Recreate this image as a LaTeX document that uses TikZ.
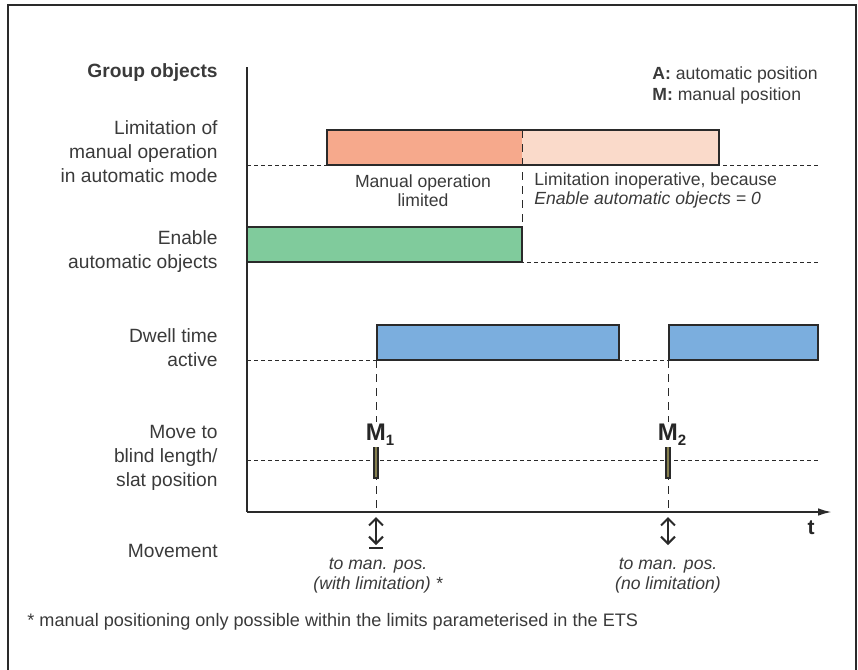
\documentclass[tikz,border=0pt]{standalone}
\usepackage{fontspec}
\setmainfont{Liberation Sans}
\usetikzlibrary{arrows.meta}
\definecolor{txt}{HTML}{3A3A3A}
\definecolor{salmon}{HTML}{F6A98C}
\definecolor{salmonlight}{HTML}{FADACA}
\definecolor{greenbox}{HTML}{80CB9C}
\definecolor{bluebox}{HTML}{7BAEDE}
\definecolor{olive}{HTML}{86804F}
\definecolor{linec}{HTML}{2A2A2A}
\begin{document}
\begin{tikzpicture}[x=0.5pt,y=-0.5pt,
  rowlbl/.style={align=right, anchor=east, font=\fontsize{9.6}{12}\selectfont, text=txt, inner sep=0pt},
  note/.style={font=\fontsize{8.8}{9.5}\selectfont, text=txt, inner sep=0pt},
  foot/.style={font=\fontsize{9.05}{10}\selectfont, text=txt, inner sep=0pt},
  legend/.style={font=\fontsize{8.8}{10.5}\selectfont, text=txt, inner sep=0pt, align=left, anchor=west},
  mov/.style={font=\fontsize{8.8}{10}\selectfont\itshape, text=txt, inner sep=0pt, align=center},
  boxline/.style={draw=linec, line width=1pt},
  baseln/.style={draw=linec, line width=0.5pt, dash pattern=on 2pt off 1.5pt},
  marker/.style={draw=linec, line width=0.5pt, dash pattern=on 4pt off 3pt},
  axis/.style={draw=linec, line width=1pt},
  movarrow/.style={draw=linec, line width=1pt, {Straight Barb[length=3.5pt,width=7pt,line width=1pt]}-{Straight Barb[length=3.5pt,width=7pt,line width=1pt]}},
  mlabel/.style={font=\fontsize{12}{14}\selectfont\bfseries, text=black!85, inner sep=0.5pt, fill=white, anchor=base}
]
\useasboundingbox (0,0) rectangle (858,670);
% frame
\draw[draw=linec, line width=1pt] (8,700) -- (8,5) -- (856,5) -- (856,700);

% coordinates
\coordinate (yaxtop) at (247,67);
\coordinate (origin) at (247,512);
\coordinate (xaxend) at (832,512);

% baselines
\draw[baseln] (247,165) -- (818,165);
\draw[baseln] (247,262) -- (818,262);
\draw[baseln] (247,360) -- (818,360);
\draw[baseln] (247,460) -- (818,460);

% row 1 boxes
\fill[salmon] (327,130) rectangle (522,165);
\fill[salmonlight] (522,130) rectangle (719,165);
\draw[boxline] (327,130) rectangle (719,165);
\draw[marker] (522,130) -- (522,227);

% row 2
\draw[boxline, fill=greenbox] (247,227) rectangle (522,262);

% row 3
\draw[boxline, fill=bluebox] (377,325) rectangle (619,360);
\draw[boxline, fill=bluebox] (669,325) rectangle (818,360);

% markers
\draw[marker] (376,360) -- (376,512);
\draw[marker] (668,360) -- (668,512);

% bars
\draw[draw=linec, line width=0.6pt, fill=olive] (374,442) rectangle (378,478);
\draw[draw=linec, line width=0.6pt, fill=olive] (666,442) rectangle (670,478);
\node[mlabel] (m1) at (380,440) {M\raisebox{-0.45ex}{\fontsize{7.5}{8}\selectfont 1}};
\node[mlabel] (m2) at (672,440) {M\raisebox{-0.45ex}{\fontsize{7.5}{8}\selectfont 2}};

% axes
\draw[axis] (yaxtop) -- (origin);
\draw[axis, -{Latex[length=7pt,width=3.8pt]}] (origin) -- (xaxend);
\node[font=\fontsize{10.5}{12}\selectfont\bfseries, text=black!85, inner sep=0pt] (t) at (811,528) {t};

% row labels
\node[rowlbl, font=\fontsize{9.6}{12}\selectfont\bfseries] (go) at (218,73) {Group objects};
\node[rowlbl] (r1) at (218,152) {Limitation of\\manual operation\\in automatic mode};
\node[rowlbl] (r2) at (218,252) {Enable\\automatic objects};
\node[rowlbl] (r3) at (218,348) {Dwell time\\active};
\node[rowlbl] (r4) at (218,458) {Move to\\blind length/\\slat position};
\node[rowlbl] (r5) at (218,551) {Movement};

% legend
\node[legend] (leg) at (652,85) {\textbf{A:} automatic position\\\textbf{M:} manual position};

% notes row 1
\node[note, align=center] (n1) at (423,190.5) {Manual operation\\limited};
\node[note, align=left, anchor=west] (n2) at (534,190.5) {Limitation inoperative, because\\\textit{Enable automatic objects = 0}};

% movement arrows
\coordinate (a1t) at (376,517);
\coordinate (a1b) at (376,545);
\coordinate (a2t) at (668,517);
\coordinate (a2b) at (668,545);
\draw[movarrow] (a1t) -- (a1b);
\draw[draw=linec, line width=1pt] (369,548) -- (383,548);
\draw[movarrow] (a2t) -- (a2b);
\node[mov] (mv1) at (378,576) {to man. pos.\\(with limitation) *};
\node[mov] (mv2) at (668,576) {to man. pos.\\(no limitation)};

% footnote
\node[foot, anchor=west] (fn) at (27,622) {* manual positioning only possible within the limits parameterised in the ETS};
\end{tikzpicture}
\end{document}
